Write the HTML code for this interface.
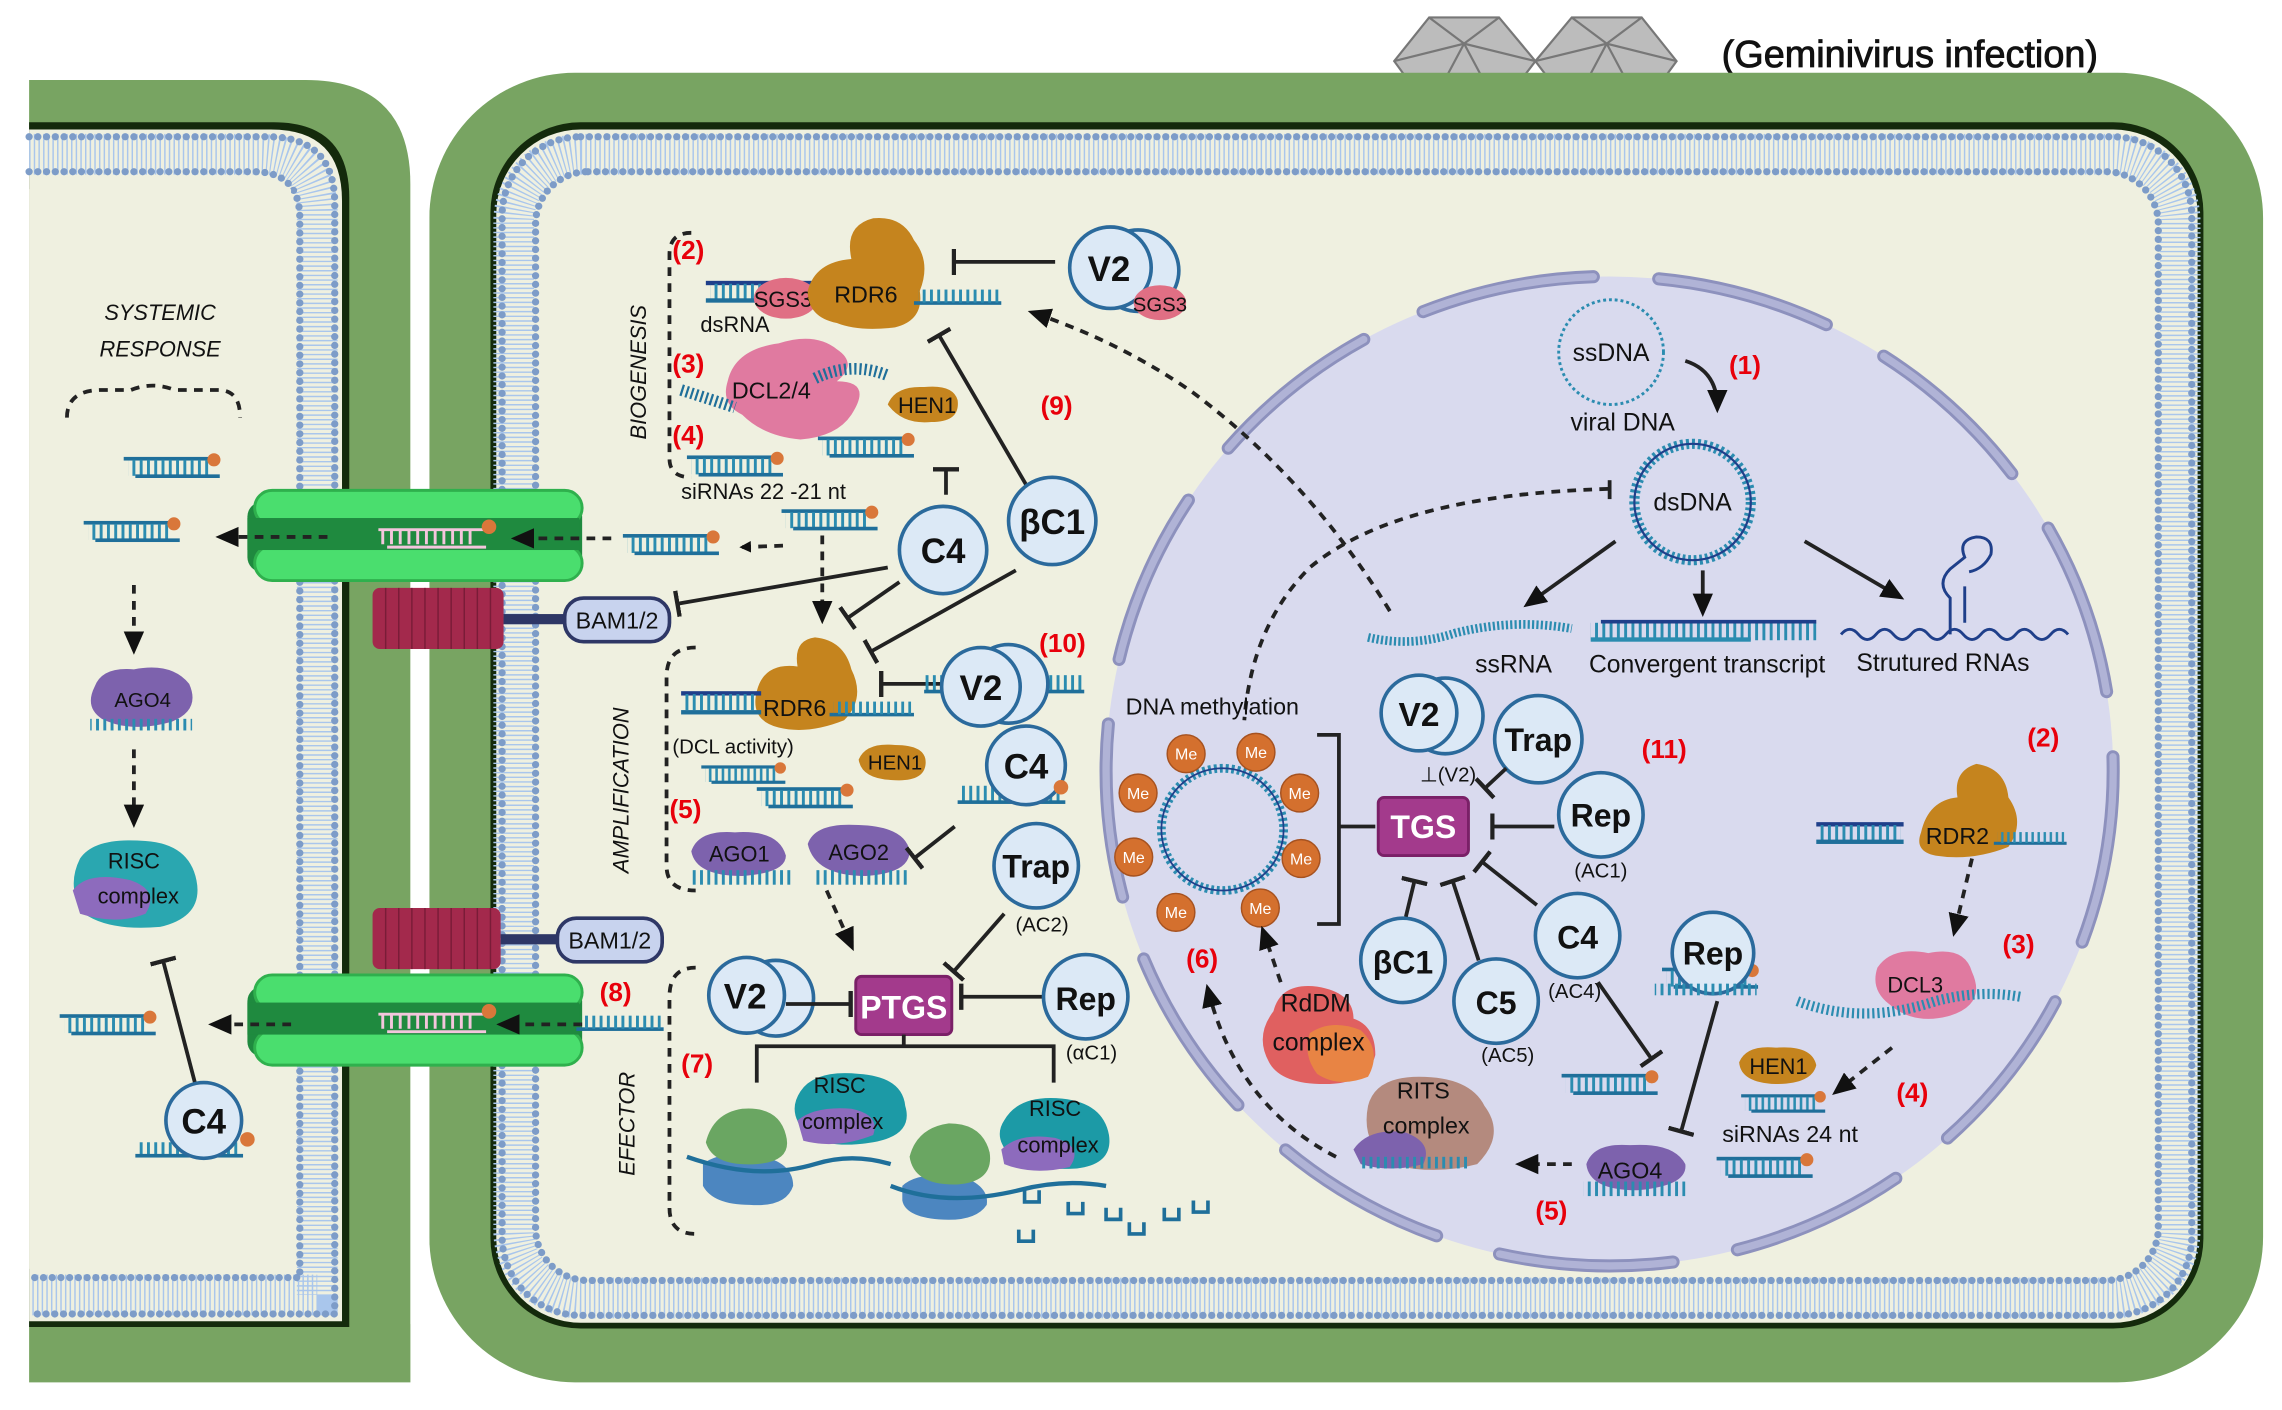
<!DOCTYPE html>
<html><head><meta charset="utf-8"><style>
html,body{margin:0;padding:0;background:#fff;width:2282px;height:1410px;overflow:hidden}
svg{display:block}
text{font-family:"Liberation Sans",sans-serif}
.b{font-weight:bold}
.r{fill:#e8000b;font-weight:bold;font-size:18px}
.k{fill:#111;font-size:14px}
.pl{fill:#dce9f6;stroke:#2b6a9c;stroke-width:2.5}
.ln{stroke:#222;stroke-width:2.6;fill:none}
.dsh{stroke:#222;stroke-width:2.6;fill:none;stroke-dasharray:6 5}
</style></head><body>
<svg width="2282" height="1410" viewBox="0 0 1568 969" preserveAspectRatio="none" xmlns="http://www.w3.org/2000/svg">
<defs>
<marker id="ah" markerWidth="8" markerHeight="8" refX="6" refY="4" orient="auto" markerUnits="userSpaceOnUse" viewBox="0 0 8 8"><path d="M0,0 L8,4 L0,8 Z" fill="#111"/></marker>
<marker id="ahb" markerWidth="16" markerHeight="14" refX="12" refY="7" orient="auto" markerUnits="userSpaceOnUse" viewBox="0 0 16 14"><path d="M0,0 L16,7 L0,14 Z" fill="#111"/></marker>
<marker id="tb" markerWidth="4" markerHeight="18" refX="2" refY="9" orient="auto" markerUnits="userSpaceOnUse" viewBox="0 0 4 18"><rect x="0" y="0" width="3" height="18" fill="#222"/></marker>
<pattern id="tk" width="5" height="10" patternUnits="userSpaceOnUse"><rect x="1" y="0" width="2" height="10" fill="#2b8cb0"/></pattern>
<symbol id="si" viewBox="0 0 70 16" overflow="visible">
<rect x="0" y="0" width="60" height="2.5" fill="#1f6f9a"/><rect x="3" y="2" width="57" height="11" fill="url(#tk)"/><rect x="8" y="12" width="58" height="2.5" fill="#1f6f9a"/><circle cx="62" cy="2" r="4.5" fill="#d9773a"/>
</symbol>
<symbol id="ss" viewBox="0 0 60 12" overflow="visible"><rect x="0" y="9" width="60" height="2.5" fill="#1f6f9a"/><rect x="3" y="1" width="55" height="9" fill="url(#tk)"/></symbol>
</defs>

<!-- Geminivirus -->
<g stroke="#777" stroke-width="1.5" fill="#bcbcbc">
<polygon points="958,42 982,12 1030,12 1055,42 1030,75 982,75"/>
<polygon points="1055,42 1080,12 1128,12 1152,42 1128,75 1080,75"/>
<path d="M958,42 L1006,30 L1055,42 M982,12 L1006,30 L1030,12 M1006,30 L982,75 M1006,30 L1030,75 M1055,42 L1104,30 L1152,42 M1080,12 L1104,30 L1128,12 M1104,30 L1080,75 M1104,30 L1128,75" fill="none"/>
</g>
<text x="1183" y="46" font-size="26" fill="#111" stroke="#111" stroke-width="0.6">(Geminivirus infection)</text>

<!-- Left cell -->
<path d="M20,55 L210,55 Q282,55 282,127 L282,950 L20,950 Z" fill="#78a462"/>
<path d="M20,84 L188,84 Q240,84 240,136 L240,912 L20,912 Z" fill="#142a0c"/>
<path d="M20,89 L186,89 Q235,89 235,138 L235,908 L20,908 Z" fill="#eff0e0"/>
<path d="M20,106 L178,106 Q218,106 218,146 L218,890 L20,890" fill="none" stroke="#a9c6ec" stroke-width="28" stroke-dasharray="1 2.2"/>
<path d="M20,94 L184,94 Q230,94 230,140 L230,903 L20,903" fill="none" stroke="#7d9cc8" stroke-width="5" stroke-linecap="round" stroke-dasharray="0 6"/>
<path d="M20,118 L174,118 Q206,118 206,150 L206,878 L20,878" fill="none" stroke="#7d9cc8" stroke-width="5" stroke-linecap="round" stroke-dasharray="0 6"/>
<rect x="20" y="130" width="180" height="742" fill="#eff0e0"/>

<!-- Right cell -->
<rect x="295" y="50" width="1260" height="900" rx="100" fill="#78a462"/>
<rect x="337" y="84" width="1177" height="829" rx="62" fill="#142a0c"/>
<rect x="341" y="89" width="1169" height="820" rx="58" fill="#eff0e0"/>
<rect x="353" y="106" width="1145" height="786" rx="46" fill="none" stroke="#a9c6ec" stroke-width="28" stroke-dasharray="1 2.2"/>
<rect x="345" y="94" width="1161" height="810" rx="54" fill="none" stroke="#7d9cc8" stroke-width="5" stroke-linecap="round" stroke-dasharray="0 6"/>
<rect x="368" y="118" width="1115" height="762" rx="36" fill="none" stroke="#7d9cc8" stroke-width="5" stroke-linecap="round" stroke-dasharray="0 6"/>
<rect x="372" y="124" width="1107" height="750" rx="32" fill="#eff0e0"/>

<rect x="282" y="90" width="13" height="820" fill="#fff"/>

<!-- Red channels & BAM -->
<g fill="#a3294c">
<rect x="256" y="404" width="90" height="42" rx="5"/>
<rect x="256" y="624" width="88" height="42" rx="5"/>
</g>
<g stroke="#7a1c38" stroke-width="1">
<path d="M265,404v42M274,404v42M283,404v42M292,404v42M301,404v42M310,404v42M319,404v42M328,404v42M337,404v42"/>
<path d="M265,624v42M274,624v42M283,624v42M292,624v42M301,624v42M310,624v42M319,624v42M328,624v42M337,624v42"/>
</g>
<rect x="346" y="422" width="44" height="7" fill="#2e3766"/>
<rect x="344" y="642" width="40" height="7" fill="#2e3766"/>
<rect x="388" y="411" width="72" height="30" rx="13" fill="#c8d3ee" stroke="#2e3766" stroke-width="2.5"/>
<text x="424" y="432" font-size="16" text-anchor="middle" fill="#111">BAM1/2</text>
<rect x="383" y="631" width="72" height="30" rx="13" fill="#c8d3ee" stroke="#2e3766" stroke-width="2.5"/>
<text x="419" y="652" font-size="16" text-anchor="middle" fill="#111">BAM1/2</text>

<!-- Plasmodesmata -->
<g>
<rect x="170" y="345" width="230" height="48" rx="10" fill="#1f8a3f"/>
<rect x="175" y="337" width="225" height="24" rx="12" fill="#4ade6e" stroke="#2fb04d" stroke-width="2"/>
<rect x="175" y="375" width="225" height="24" rx="12" fill="#4ade6e" stroke="#2fb04d" stroke-width="2"/>
<rect x="170" y="356" width="228" height="22" fill="#1f8a3f"/>
<rect x="170" y="678" width="230" height="48" rx="10" fill="#1f8a3f"/>
<rect x="175" y="670" width="225" height="24" rx="12" fill="#4ade6e" stroke="#2fb04d" stroke-width="2"/>
<rect x="175" y="708" width="225" height="24" rx="12" fill="#4ade6e" stroke="#2fb04d" stroke-width="2"/>
<rect x="170" y="689" width="228" height="22" fill="#1f8a3f"/>
<g stroke="#f3c6dc" stroke-width="2" fill="none">
<path d="M260,364h72M266,376h68M263,364v10M269,364v10M275,364v10M281,364v10M287,364v10M293,364v10M299,364v10M305,364v10M311,364v10M317,364v10M323,364v10"/>
<path d="M260,697h72M266,709h68M263,697v10M269,697v10M275,697v10M281,697v10M287,697v10M293,697v10M299,697v10M305,697v10M311,697v10M317,697v10M323,697v10"/>
</g>
<circle cx="336" cy="362" r="5" fill="#d9773a"/><circle cx="336" cy="695" r="5" fill="#d9773a"/>
</g>
<path class="dsh" d="M225,369 L152,369" marker-end="url(#ahb)"/>
<path class="dsh" d="M420,370 L355,370" marker-end="url(#ahb)"/>
<path class="dsh" d="M200,704 L147,704" marker-end="url(#ahb)"/>
<path class="dsh" d="M400,704 L345,704" marker-end="url(#ahb)"/>

<!-- Left cell content -->
<text x="110" y="220" font-size="15" font-style="italic" text-anchor="middle" fill="#111">SYSTEMIC</text>
<text x="110" y="245" font-size="15" font-style="italic" text-anchor="middle" fill="#111">RESPONSE</text>
<path class="dsh" d="M46,287 Q46,268 70,268 L90,268 Q105,262 120,268 L150,268 Q165,268 165,287"/>
<use href="#si" x="80" y="314" width="80" height="16"/>
<use href="#si" x="55" y="358" width="75" height="16"/>
<path class="dsh" d="M92,402 L92,446" marker-end="url(#ahb)"/>
<path d="M65,472 Q70,458 92,460 Q118,455 130,470 Q138,488 118,496 Q90,504 70,494 Q58,486 65,472Z" fill="#7d62ad"/>
<rect x="62" y="494" width="70" height="8" fill="url(#tk)"/>
<text x="98" y="486" font-size="14" text-anchor="middle" fill="#111">AGO4</text>
<path class="dsh" d="M92,515 L92,565" marker-end="url(#ahb)"/>
<path d="M55,590 Q65,575 100,578 Q130,580 135,605 Q140,630 110,637 Q75,640 58,628 Q45,610 55,590Z" fill="#2aa7b0"/>
<path d="M50,612 Q60,598 90,605 Q110,612 100,628 Q80,636 55,628Z" fill="#8d6bbd"/>
<text x="92" y="597" font-size="15" text-anchor="middle" fill="#111">RISC</text>
<text x="95" y="621" font-size="15" text-anchor="middle" fill="#111">complex</text>
<use href="#si" x="36" y="697" width="80" height="16"/>
<path class="ln" d="M136,752 L112,660" marker-end="url(#tb)"/>
<rect x="95" y="785" width="70" height="10" fill="url(#tk)"/><rect x="93" y="793" width="74" height="2.5" fill="#1f6f9a"/>
<circle class="pl" cx="140" cy="770" r="26"/>
<text x="140" y="779" font-size="24" text-anchor="middle" class="b" fill="#111">C4</text>
<circle cx="170" cy="783" r="5" fill="#d9773a"/>

<!-- Braces -->
<path class="dsh" d="M475,160 Q460,160 460,175 L460,315 Q460,328 475,328"/>
<text transform="translate(444,302) rotate(-90)" font-size="15" font-style="italic" fill="#111">BIOGENESIS</text>
<path class="dsh" d="M478,445 Q458,445 458,465 L458,595 Q458,612 478,612"/>
<text transform="translate(432,600) rotate(-90)" font-size="15" font-style="italic" fill="#111">AMPLIFICATION</text>
<path class="dsh" d="M478,665 Q460,665 460,685 L460,830 Q460,848 478,848"/>
<text transform="translate(436,808) rotate(-90)" font-size="15" font-style="italic" fill="#111">EFECTOR</text>

<!-- Biogenesis -->
<text x="462" y="178" class="r">(2)</text>
<rect x="485" y="193" width="75" height="3" fill="#1f3f8a"/><rect x="488" y="195" width="70" height="11" fill="url(#tk)"/><rect x="485" y="205" width="75" height="3" fill="#1f6f9a"/>
<ellipse cx="540" cy="205" rx="22" ry="14" fill="#e06f84"/>
<text x="538" y="211" font-size="15" text-anchor="middle" fill="#111">SGS3</text>
<path d="M555,200 Q560,180 585,178 Q580,155 600,150 Q620,148 628,165 Q640,180 632,200 Q635,220 615,225 Q590,228 575,222 Q555,218 555,200Z" fill="#c5841e"/>
<text x="595" y="208" font-size="16" text-anchor="middle" fill="#111">RDR6</text>
<use href="#ss" x="628" y="198" width="60" height="12"/>
<text x="505" y="228" font-size="15" text-anchor="middle" fill="#111">dsRNA</text>
<path class="ln" d="M725,180 L655,180" marker-end="url(#tb)"/>
<circle class="pl" cx="782" cy="186" r="28"/>
<circle class="pl" cx="763" cy="184" r="28"/>
<text x="762" y="193" font-size="24" text-anchor="middle" class="b" fill="#111">V2</text>
<ellipse cx="797" cy="208" rx="18" ry="12" fill="#e06f84"/>
<text x="797" y="214" font-size="14" text-anchor="middle" fill="#111">SGS3</text>

<text x="462" y="256" class="r">(3)</text>
<path d="M500,262 Q505,240 535,236 Q560,228 575,240 Q590,250 575,262 Q600,262 585,285 Q575,300 550,302 Q525,300 510,285 Q495,278 500,262Z" fill="#e07aa0"/>
<path d="M468,268 Q490,275 505,280" stroke="#1f6f9a" stroke-width="8" fill="none" stroke-dasharray="1.5 2"/>
<path d="M560,260 Q585,248 610,258" stroke="#1f6f9a" stroke-width="8" fill="none" stroke-dasharray="1.5 2"/>
<text x="530" y="274" font-size="16" text-anchor="middle" fill="#111">DCL2/4</text>
<path d="M610,278 Q615,265 635,266 Q655,264 658,275 Q660,290 640,290 Q620,292 610,278Z" fill="#c5841e"/>
<text x="637" y="284" font-size="15" text-anchor="middle" fill="#111">HEN1</text>
<text x="462" y="305" class="r">(4)</text>
<use href="#si" x="467" y="313" width="80" height="16"/>
<use href="#si" x="557" y="300" width="80" height="16"/>
<text x="468" y="343" font-size="15" fill="#111">siRNAs  22 -21 nt</text>
<use href="#si" x="532" y="350" width="80" height="16"/>
<use href="#si" x="423" y="367" width="80" height="16"/>
<path class="dsh" d="M538,375 L510,376" marker-end="url(#ah)"/>
<path class="dsh" d="M565,368 L565,425" marker-end="url(#ahb)"/>
<path class="ln" d="M650,340 L650,322" marker-end="url(#tb)"/>
<path class="ln" d="M705,333 L645,230" marker-end="url(#tb)"/>
<text x="715" y="285" class="r">(9)</text>
<circle class="pl" cx="648" cy="378" r="30"/>
<text x="648" y="387" font-size="24" text-anchor="middle" class="b" fill="#111">C4</text>
<circle class="pl" cx="723" cy="358" r="30"/>
<text x="723" y="367" font-size="24" text-anchor="middle" class="b" fill="#111">βC1</text>
<path class="ln" d="M610,390 L465,415" marker-end="url(#tb)"/>
<path class="ln" d="M618,400 L582,425" marker-end="url(#tb)"/>
<path class="ln" d="M698,392 L598,448" marker-end="url(#tb)"/>

<!-- Amplification -->
<path d="M520,475 Q525,455 548,458 Q545,440 560,438 Q580,440 585,460 Q595,480 580,495 Q555,505 535,500 Q515,495 520,475Z" fill="#c5841e"/>
<rect x="468" y="475" width="55" height="3" fill="#1f3f8a"/><rect x="470" y="477" width="50" height="11" fill="url(#tk)"/><rect x="468" y="488" width="55" height="3" fill="#1f6f9a"/>
<text x="546" y="492" font-size="16" text-anchor="middle" fill="#111">RDR6</text>
<use href="#ss" x="570" y="481" width="58" height="12"/>
<path class="ln" d="M650,470 L605,470" marker-end="url(#tb)"/>
<rect x="635" y="464" width="110" height="12" fill="url(#tk)"/><rect x="635" y="474" width="110" height="2.5" fill="#1f6f9a"/>
<circle class="pl" cx="693" cy="470" r="27"/>
<circle class="pl" cx="674" cy="472" r="27"/>
<text x="674" y="481" font-size="24" text-anchor="middle" class="b" fill="#111">V2</text>
<text x="714" y="448" class="r">(10)</text>
<text x="462" y="518" font-size="14" fill="#111">(DCL activity)</text>
<use href="#si" x="480" y="526" width="65" height="14"/>
<use href="#si" x="515" y="541" width="80" height="16"/>
<path d="M590,522 Q595,510 615,512 Q637,512 636,525 Q635,538 612,536 Q592,535 590,522Z" fill="#c5841e"/>
<text x="615" y="529" font-size="14" text-anchor="middle" fill="#111">HEN1</text>
<rect x="660" y="540" width="70" height="12" fill="url(#tk)"/><rect x="658" y="550" width="74" height="2.5" fill="#1f6f9a"/>
<circle class="pl" cx="705" cy="526" r="27"/>
<text x="705" y="535" font-size="24" text-anchor="middle" class="b" fill="#111">C4</text>
<circle cx="729" cy="541" r="5" fill="#d9773a"/>
<text x="460" y="562" class="r">(5)</text>
<path d="M475,585 Q480,570 505,572 Q535,570 540,588 Q540,600 510,602 Q478,602 475,585Z" fill="#7d62ad"/>
<rect x="475" y="598" width="70" height="10" fill="url(#tk)"/>
<text x="508" y="592" font-size="15" text-anchor="middle" fill="#111">AGO1</text>
<path d="M555,580 Q560,565 590,567 Q622,568 625,585 Q625,600 595,602 Q560,602 555,580Z" fill="#7d62ad"/>
<rect x="560" y="598" width="65" height="10" fill="url(#tk)"/>
<text x="590" y="591" font-size="15" text-anchor="middle" fill="#111">AGO2</text>
<path class="ln" d="M656,568 L628,590" marker-end="url(#tb)"/>
<path class="dsh" d="M568,612 L585,650" marker-end="url(#ahb)"/>
<circle class="pl" cx="712" cy="595" r="29"/>
<text x="712" y="603" font-size="22" text-anchor="middle" class="b" fill="#111">Trap</text>
<text x="716" y="640" font-size="14" text-anchor="middle" fill="#111">(AC2)</text>
<path class="ln" d="M690,628 L655,668" marker-end="url(#tb)"/>

<!-- Effector -->
<text x="412" y="688" class="r">(8)</text>
<use href="#ss" x="395" y="697" width="62" height="12"/>
<text x="468" y="737" class="r">(7)</text>
<circle class="pl" cx="533" cy="686" r="26"/>
<circle class="pl" cx="513" cy="684" r="26"/>
<text x="512" y="693" font-size="24" text-anchor="middle" class="b" fill="#111">V2</text>
<path class="ln" d="M540,690 L585,690" marker-end="url(#tb)"/>
<rect x="588" y="671" width="66" height="40" rx="4" fill="#a33a8c" stroke="#7a2067" stroke-width="2"/>
<text x="621" y="700" font-size="22" text-anchor="middle" class="b" fill="#fff">PTGS</text>
<path class="ln" d="M720,685 L660,685" marker-end="url(#tb)"/>
<circle class="pl" cx="746" cy="685" r="29"/>
<text x="746" y="694" font-size="22" text-anchor="middle" class="b" fill="#111">Rep</text>
<text x="750" y="728" font-size="14" text-anchor="middle" fill="#111">(αC1)</text>
<path class="ln" d="M621,711 L621,719 M520,744 L520,719 L724,719 L724,744"/>
<path d="M550,750 Q560,735 590,738 Q620,740 622,760 Q628,780 600,785 Q570,790 555,780 Q540,765 550,750Z" fill="#1c9aa6"/>
<path d="M548,770 Q560,760 585,762 Q605,766 600,780 Q575,790 552,784Z" fill="#8d6bbd"/>
<text x="577" y="751" font-size="15" text-anchor="middle" fill="#111">RISC</text>
<text x="579" y="776" font-size="15" text-anchor="middle" fill="#111">complex</text>
<path d="M690,770 Q700,752 730,755 Q758,758 762,780 Q765,800 740,803 Q705,805 695,795 Q682,782 690,770Z" fill="#1c9aa6"/>
<path d="M688,790 Q700,778 725,782 Q745,788 735,802 Q710,808 690,800Z" fill="#8d6bbd"/>
<text x="725" y="767" font-size="15" text-anchor="middle" fill="#111">RISC</text>
<text x="727" y="792" font-size="15" text-anchor="middle" fill="#111">complex</text>
<path d="M483,800 Q495,790 525,795 Q545,800 545,815 Q540,830 515,828 Q490,828 483,815Z" fill="#4c86c0"/>
<path d="M485,785 Q490,765 510,762 Q535,760 540,780 Q545,798 520,800 Q490,802 485,785Z" fill="#6aa662"/>
<path d="M620,815 Q630,805 660,808 Q680,815 678,828 Q670,840 645,838 Q622,836 620,825Z" fill="#4c86c0"/>
<path d="M625,795 Q630,775 652,772 Q675,772 680,792 Q683,812 658,814 Q628,815 625,795Z" fill="#6aa662"/>
<path d="M472,795 Q520,812 560,800 Q585,792 612,800" stroke="#1f6f9a" stroke-width="3" fill="none"/>
<path d="M612,815 Q650,830 700,818 Q730,810 760,815" stroke="#1f6f9a" stroke-width="3" fill="none"/>
<g stroke="#1f6f9a" stroke-width="2.5" fill="none">
<path d="M704,818v8h10v-8M734,826v8h10v-8M760,830v8h10v-8M700,845v8h10v-8M776,840v8h10v-8M800,830v8h10v-8M820,825v8h10v-8"/>
</g>

<!-- Nucleus -->
<ellipse cx="1106" cy="530" rx="346" ry="340" fill="#d9daee"/>
<ellipse cx="1106" cy="530" rx="346" ry="340" fill="none" stroke="#8d91bd" stroke-width="9" stroke-dasharray="120 45" stroke-linecap="round"/>
<ellipse cx="1106" cy="530" rx="346" ry="340" fill="none" stroke="#b0b3d6" stroke-width="5" stroke-dasharray="120 45" stroke-linecap="round"/>

<circle cx="1107" cy="242" r="36" fill="none" stroke="#2b8cb0" stroke-width="2" stroke-dasharray="2 2"/>
<text x="1107" y="248" font-size="17" text-anchor="middle" fill="#111">ssDNA</text>
<text x="1188" y="257" class="r">(1)</text>
<path class="ln" d="M1158,248 Q1180,255 1180,280" marker-end="url(#ahb)"/>
<text x="1115" y="296" font-size="17" text-anchor="middle" fill="#111">viral DNA</text>
<circle cx="1163" cy="345" r="40" fill="none" stroke="#2b8cb0" stroke-width="7" stroke-dasharray="2 2"/>
<circle cx="1163" cy="345" r="40" fill="none" stroke="#1f3f8a" stroke-width="1.5"/>
<text x="1163" y="351" font-size="17" text-anchor="middle" fill="#111">dsDNA</text>
<path class="ln" d="M1110,372 L1050,415" marker-end="url(#ahb)"/>
<path class="ln" d="M1170,392 L1170,420" marker-end="url(#ahb)"/>
<path class="ln" d="M1240,372 L1305,410" marker-end="url(#ahb)"/>
<path d="M940,438 Q970,445 1000,435 Q1040,425 1080,432" stroke="#2b8cb0" stroke-width="6" fill="none" stroke-dasharray="1.5 1.5"/>
<rect x="1093" y="428" width="155" height="12" fill="url(#tk)"/><rect x="1093" y="438" width="110" height="3" fill="#2b8cb0"/><rect x="1100" y="426" width="148" height="2.5" fill="#1f3f8a"/>
<path d="M1265,436 q6,-7 12,0 t12,0 t12,0 t12,0 t12,0 t12,0 t12,0 t12,0 t12,0 t12,0 t12,0 t12,0 t12,0" stroke="#1f3f8a" stroke-width="2" fill="none"/>
<path d="M1340,436 v-25 q-10,-10 0,-20 l10,-8 q-5,-12 8,-14 q12,0 10,12 q-5,10 -15,12 m-3,10 v25" stroke="#1f3f8a" stroke-width="2" fill="none"/>
<text x="1040" y="462" font-size="17" text-anchor="middle" fill="#111">ssRNA</text>
<text x="1173" y="462" font-size="17" text-anchor="middle" fill="#111">Convergent transcript</text>
<text x="1335" y="461" font-size="17" text-anchor="middle" fill="#111">Strutured RNAs</text>
<path class="dsh" d="M1105,336 Q960,340 900,390 Q860,430 855,495" />
<path class="ln" d="M1106,330 L1106,343"/>
<path class="dsh" d="M955,420 Q900,330 820,270 Q770,235 710,215" marker-end="url(#ahb)"/>

<text x="833" y="491" font-size="16" text-anchor="middle" fill="#111">DNA methylation</text>
<circle cx="840" cy="570" r="42" fill="none" stroke="#2b8cb0" stroke-width="6" stroke-dasharray="2 2"/>
<circle cx="840" cy="570" r="42" fill="none" stroke="#1f3f8a" stroke-width="1.2"/>
<g fill="#d4702e" stroke="#a65220" stroke-width="1">
<circle cx="815" cy="518" r="13"/><circle cx="863" cy="517" r="13"/><circle cx="893" cy="545" r="13"/><circle cx="894" cy="590" r="13"/><circle cx="866" cy="624" r="13"/><circle cx="808" cy="627" r="13"/><circle cx="779" cy="589" r="13"/><circle cx="782" cy="545" r="13"/>
</g>
<g font-size="11" fill="#fff" text-anchor="middle">
<text x="815" y="522">Me</text><text x="863" y="521">Me</text><text x="893" y="549">Me</text><text x="894" y="594">Me</text><text x="866" y="628">Me</text><text x="808" y="631">Me</text><text x="779" y="593">Me</text><text x="782" y="549">Me</text>
</g>
<path class="ln" d="M905,505 L920,505 L920,635 L905,635 M920,568 L945,568"/>
<rect x="947" y="548" width="62" height="40" rx="4" fill="#a33a8c" stroke="#7a2067" stroke-width="2"/>
<text x="978" y="576" font-size="22" text-anchor="middle" class="b" fill="#fff">TGS</text>
<circle class="pl" cx="993" cy="492" r="26"/>
<circle class="pl" cx="975" cy="490" r="26"/>
<text x="975" y="499" font-size="23" text-anchor="middle" class="b" fill="#111">V2</text>
<text x="995" y="537" font-size="14" text-anchor="middle" fill="#111">⊥(V2)</text>
<circle class="pl" cx="1057" cy="508" r="30"/>
<text x="1057" y="516" font-size="22" text-anchor="middle" class="b" fill="#111">Trap</text>
<path class="ln" d="M1035,528 L1020,542" marker-end="url(#tb)"/>
<text x="1128" y="521" class="r">(11)</text>
<circle class="pl" cx="1100" cy="560" r="29"/>
<text x="1100" y="568" font-size="22" text-anchor="middle" class="b" fill="#111">Rep</text>
<text x="1100" y="603" font-size="14" text-anchor="middle" fill="#111">(AC1)</text>
<path class="ln" d="M1068,568 L1025,568" marker-end="url(#tb)"/>
<circle class="pl" cx="964" cy="660" r="29"/>
<text x="964" y="669" font-size="22" text-anchor="middle" class="b" fill="#111">βC1</text>
<circle class="pl" cx="1028" cy="688" r="29"/>
<text x="1028" y="697" font-size="22" text-anchor="middle" class="b" fill="#111">C5</text>
<text x="1036" y="730" font-size="14" text-anchor="middle" fill="#111">(AC5)</text>
<circle class="pl" cx="1084" cy="643" r="29"/>
<text x="1084" y="652" font-size="22" text-anchor="middle" class="b" fill="#111">C4</text>
<text x="1082" y="686" font-size="14" text-anchor="middle" fill="#111">(AC4)</text>
<path class="ln" d="M966,630 L972,605" marker-end="url(#tb)"/>
<path class="ln" d="M1016,660 L998,605" marker-end="url(#tb)"/>
<path class="ln" d="M1056,622 L1018,592" marker-end="url(#tb)"/>
<path class="ln" d="M1098,675 L1135,728" marker-end="url(#tb)"/>
<use href="#si" x="1068" y="738" width="80" height="16"/>
<text x="815" y="665" class="r">(6)</text>
<path d="M875,695 Q880,675 905,678 Q930,682 930,700 Q945,705 945,725 Q940,745 910,745 Q880,745 872,730 Q862,712 875,695Z" fill="#e06060"/>
<path d="M900,710 Q915,700 935,708 Q950,722 940,740 Q920,748 905,738 Q895,725 900,710Z" fill="#e88444"/>
<text x="904" y="695" font-size="17" text-anchor="middle" fill="#111">RdDM</text>
<text x="906" y="722" font-size="17" text-anchor="middle" fill="#111">complex</text>
<path class="dsh" d="M880,675 L868,640" marker-end="url(#ahb)"/>
<path class="dsh" d="M918,795 Q850,760 830,680" marker-end="url(#ahb)"/>
<path d="M940,760 Q945,740 975,740 Q1010,740 1020,760 Q1035,780 1015,800 Q985,808 955,800 Q935,785 940,760Z" fill="#b48a7e"/>
<path d="M930,790 Q940,775 965,778 Q985,785 978,800 Q955,806 935,800Z" fill="#7d62ad"/>
<rect x="935" y="795" width="75" height="8" fill="url(#tk)"/>
<text x="978" y="755" font-size="16" text-anchor="middle" fill="#111">RITS</text>
<text x="980" y="779" font-size="16" text-anchor="middle" fill="#111">complex</text>
<path class="dsh" d="M1080,800 L1045,800" marker-end="url(#ahb)"/>
<path d="M1090,800 Q1095,785 1120,787 Q1150,785 1158,800 Q1160,815 1125,818 Q1092,818 1090,800Z" fill="#7d62ad"/>
<rect x="1088" y="812" width="70" height="10" fill="url(#tk)"/>
<text x="1120" y="810" font-size="16" text-anchor="middle" fill="#111">AGO4</text>
<text x="1055" y="838" class="r">(5)</text>
<path class="ln" d="M1180,688 L1155,778" marker-end="url(#tb)"/>
<use href="#si" x="1137" y="665" width="80" height="16"/>
<circle class="pl" cx="1177" cy="655" r="28"/>
<text x="1177" y="663" font-size="22" text-anchor="middle" class="b" fill="#111">Rep</text>
<rect x="1137" y="676" width="70" height="8" fill="url(#tk)"/>
<path d="M1195,730 Q1200,718 1220,720 Q1245,718 1248,732 Q1245,745 1220,745 Q1196,744 1195,730Z" fill="#c5841e"/>
<text x="1222" y="738" font-size="15" text-anchor="middle" fill="#111">HEN1</text>
<use href="#si" x="1192" y="752" width="70" height="14"/>
<text x="1230" y="785" font-size="16" text-anchor="middle" fill="#111">siRNAs  24 nt</text>
<use href="#si" x="1172" y="795" width="85" height="16"/>
<text x="1303" y="757" class="r">(4)</text>
<path class="dsh" d="M1300,720 L1262,750" marker-end="url(#ahb)"/>
<path d="M1290,665 Q1300,650 1325,655 Q1350,650 1355,668 Q1365,690 1340,698 Q1315,705 1298,690 Q1285,680 1290,665Z" fill="#e07aa0"/>
<path d="M1235,688 Q1280,705 1330,688 Q1360,680 1388,685" stroke="#2b8cb0" stroke-width="7" fill="none" stroke-dasharray="1.5 2"/>
<text x="1316" y="682" font-size="15" text-anchor="middle" fill="#111">DCL3</text>
<text x="1376" y="655" class="r">(3)</text>
<path class="dsh" d="M1355,590 L1343,640" marker-end="url(#ahb)"/>
<path d="M1320,572 Q1325,550 1345,548 Q1342,530 1358,525 Q1378,528 1380,548 Q1392,565 1380,582 Q1355,592 1330,588 Q1315,585 1320,572Z" fill="#c5841e"/>
<rect x="1248" y="565" width="60" height="3" fill="#1f3f8a"/><rect x="1250" y="567" width="56" height="11" fill="url(#tk)"/><rect x="1248" y="577" width="60" height="3" fill="#1f6f9a"/>
<use href="#ss" x="1370" y="570" width="50" height="12"/>
<text x="1345" y="580" font-size="16" text-anchor="middle" fill="#111">RDR2</text>
<text x="1393" y="513" class="r">(2)</text>
</svg>
</body></html>
